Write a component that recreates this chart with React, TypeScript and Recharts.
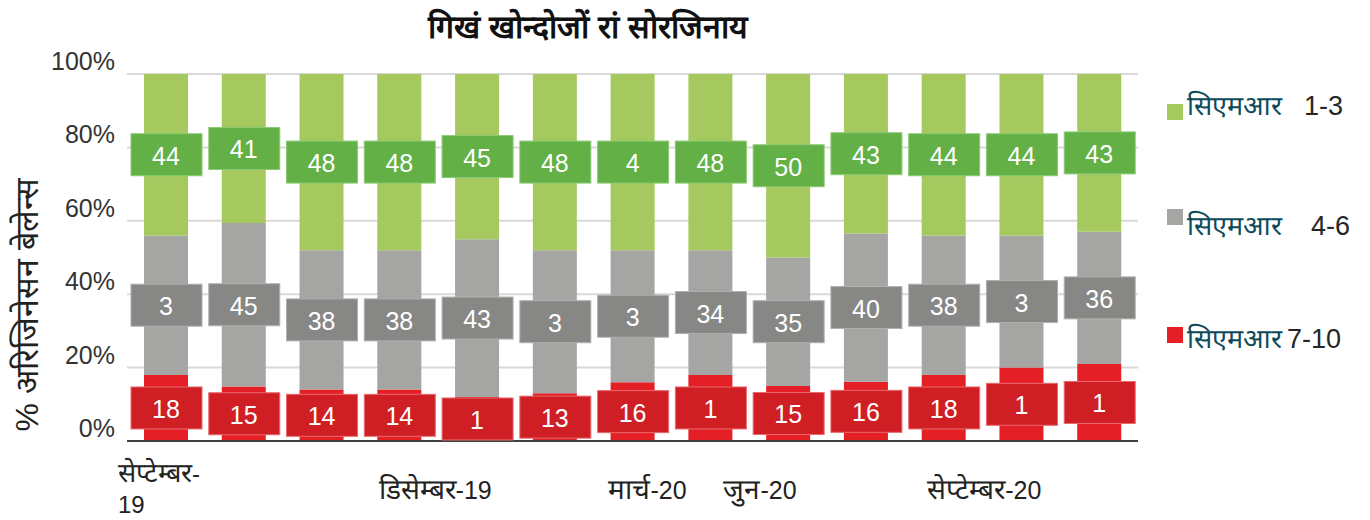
import React from 'react';
import { BarChart, Bar, XAxis, YAxis, CartesianGrid, Legend } from 'recharts';

const months = ['Sep-19', 'Oct-19', 'Nov-19', 'Dec-19', 'Jan-20', 'Feb-20', 'Mar-20', 'Apr-20', 'May-20', 'Jun-20', 'Jul-20', 'Aug-20', 'Sep-20'];
const tickLabels = ['सेप्टेम्बर-19', '', '', 'डिसेम्बर-19', '', '', 'मार्च-20', '', 'जुन-20', '', '', 'सेप्टेम्बर-20', ''];

// share of balances (%) per CMR bucket
const cmr1to3 = [44, 41, 48, 48, 45, 48, 48, 48, 50, 43, 44, 44, 43];
const cmr4to6 = [38, 45, 38, 38, 43, 39, 36, 34, 35, 40, 38, 36, 36];
const cmr7to10 = [18, 15, 14, 14, 12, 13, 16, 18, 15, 16, 18, 20, 21];

// labels as printed in the source (some are cut off)
const label1to3 = ['44', '41', '48', '48', '45', '48', '4', '48', '50', '43', '44', '44', '43'];
const label4to6 = ['3', '45', '38', '38', '43', '3', '3', '34', '35', '40', '38', '3', '36'];
const label7to10 = ['18', '15', '14', '14', '1', '13', '16', '1', '15', '16', '18', '1', '1'];

const yTicks = [0, 0.2, 0.4, 0.6, 0.8, 1];

const legendNames = ['सिएमआर', 'सिएमआर', 'सिएमआर'];
const legendRanges = ['1-3', '4-6', '7-10'];
const legendColors = ['#a5c95f', '#a5a5a4', '#e41f26'];

const data = months.map((m, i) => ({
  month: m,
  low: cmr7to10[i],
  mid: cmr4to6[i],
  high: cmr1to3[i],
}));

const FONT = '"Liberation Sans", Arial, sans-serif';

// legend layout (px inside the legend box)
const legendSquareY = [12, 117, 235];
const legendBaseY = [23, 143, 256];
const legendRangeX = [141, 148, 124];

// x offsets of the month labels relative to the bar centre
const tickShift: Record<number, number> = { 0: -48, 3: 36, 6: 15, 8: -28, 11: -37 };

const splitLabel = (text: string) => {
  const m = text.match(/^(.*?)(-\d*)$/);
  return m ? [m[1], m[2]] : [text, ''];
};

const makeLabel = (labels: string[], box: string, edge: string) => (props: any) => {
  const { x, y, width, height, index } = props;
  const cx = x + width / 2;
  const cy = y + height / 2;
  return (
    <g key={`lbl-${index}`}>
      <rect x={cx - 35} y={cy - 21} width={71} height={42} fill={box} stroke={edge} strokeWidth={1} />
      <text x={cx} y={cy + 1} textAnchor="middle" dominantBaseline="central" fontSize={25} fill="#fff" fontFamily={FONT}>
        {labels[index]}
      </text>
    </g>
  );
};

const YTick = (props: any) => {
  const { y, payload } = props;
  return (
    <text x={107} y={y - 13} textAnchor="end" dominantBaseline="central" fontSize={25} fill="#333" fontFamily={FONT}>
      {Math.round(payload.value * 100)}%
    </text>
  );
};

const XTick = (props: any) => {
  const { x, y, index } = props;
  const text = tickLabels[index];
  if (!text) return null;
  const [word, num] = splitLabel(text);
  if (index === 0) {
    const lx = x + tickShift[0];
    return (
      <text x={lx} y={y + 33} textAnchor="start" fill="#222" fontFamily={FONT}>
        <tspan x={lx} fontSize={27}>{word}</tspan>
        <tspan fontSize={24}>-</tspan>
        <tspan x={lx} y={y + 64} fontSize={24}>{num.replace('-', '')}</tspan>
      </text>
    );
  }
  return (
    <text x={x + (tickShift[index] || 0)} y={y + 50} textAnchor="middle" fill="#222" fontFamily={FONT}>
      <tspan fontSize={28}>{word}</tspan>
      <tspan fontSize={25}>{num}</tspan>
    </text>
  );
};

const YTitle = () => (
  <text transform="translate(19,297) rotate(-90)" textAnchor="middle" dominantBaseline="central" fontSize={32} fill="#222" fontFamily={FONT}>
    % अरिजिनेसन बेलेन्स
  </text>
);

const renderLegend = () => (
  <svg width={195} height={300} style={{ overflow: 'visible', fontFamily: FONT }}>
    {legendNames.map((name, i) => (
      <g key={legendRanges[i]}>
        <rect x={4} y={legendSquareY[i]} width={16} height={16} fill={legendColors[i]} />
        <text x={24} y={legendBaseY[i]} fontSize={27} fill="#0e4b5a">
          {name}
        </text>
        <text x={legendRangeX[i]} y={legendBaseY[i]} fontSize={27} fill="#262626">
          {legendRanges[i]}
        </text>
      </g>
    ))}
  </svg>
);

export default function App() {
  return (
    <div style={{ position: 'relative', width: 1354, height: 512, fontFamily: FONT }}>
      <div
        style={{
          position: 'absolute',
          left: 280,
          top: -4,
          width: 600,
          textAlign: 'center',
          fontSize: 32,
          fontWeight: 'bold',
          color: '#111',
          zIndex: 1,
        }}
      >
        गिखं खोन्दोजों रां सोरजिनाय
      </div>
      <BarChart
        width={1354}
        height={512}
        data={data}
        stackOffset="expand"
        barSize={44}
        margin={{ top: 66, right: 224, bottom: 19, left: 59 }}
      >
        <CartesianGrid vertical={false} stroke="#d9d9d9" strokeWidth={2} />
        <XAxis
          dataKey="month"
          interval={0}
          height={60}
          tickLine={false}
          axisLine={{ stroke: '#404040', strokeWidth: 2 }}
          tick={<XTick />}
        />
        <YAxis
          width={60}
          domain={[0, 1]}
          ticks={yTicks}
          axisLine={false}
          tickLine={false}
          tick={<YTick />}
          label={<YTitle />}
        />
        <Legend
          layout="vertical"
          align="center"
          verticalAlign="middle"
          content={renderLegend}
          wrapperStyle={{ left: 1155, top: 84, width: 195, height: 300 }}
        />
        <Bar dataKey="low" stackId="a" fill="#e41f26" isAnimationActive={false} label={makeLabel(label7to10, '#d01f24', '#e86a6d')} />
        <Bar dataKey="mid" stackId="a" fill="#a5a5a4" isAnimationActive={false} label={makeLabel(label4to6, '#878786', '#b0b0af')} />
        <Bar dataKey="high" stackId="a" fill="#a5c95f" isAnimationActive={false} label={makeLabel(label1to3, '#62b046', '#8cca74')} />
      </BarChart>
    </div>
  );
}
